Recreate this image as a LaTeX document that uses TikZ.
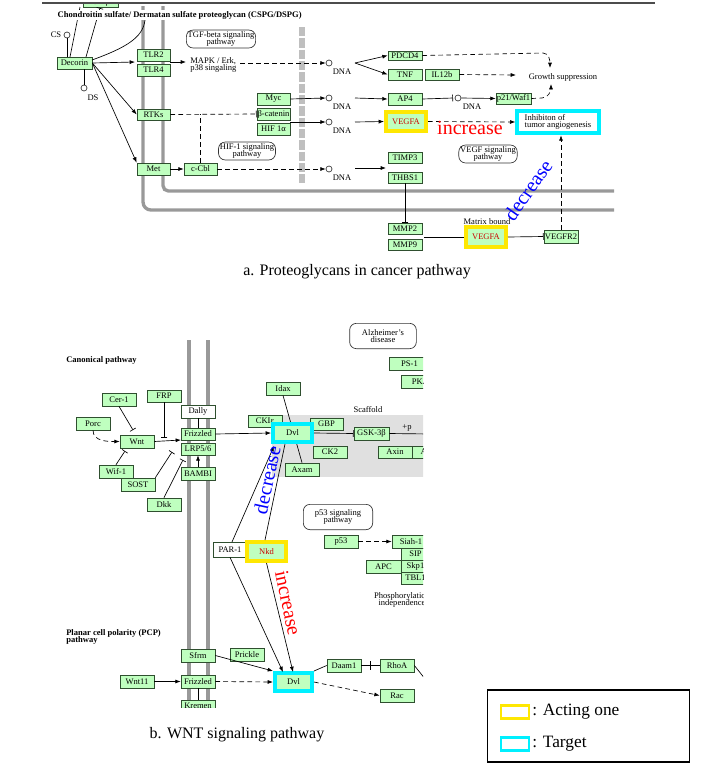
\documentclass[tikz,border=0pt]{standalone}
\usepackage{fontspec}
\setmainfont{Liberation Serif}
\usetikzlibrary{arrows.meta}
\definecolor{kg}{HTML}{BFFFBF}
\definecolor{kgd}{HTML}{2F4F2F}
\definecolor{memc}{HTML}{999999}
\definecolor{cy}{HTML}{00F0FF}
\newcommand\sm{\fontsize{6.4}{6.6}\selectfont}
\newcommand\bx[7][gbox]{%
  \pgfmathsetmacro\cxx{(#3+#5)/2}\pgfmathsetmacro\cyy{(#4+#6)/2}%
  \pgfmathsetmacro\ww{(#5-#3)*0.75}\pgfmathsetmacro\hh{(#6-#4)*0.75}%
  \node[#1,minimum width=\ww pt,minimum height=\hh pt] (#2) at (\cxx,\cyy) {#7};}
\begin{document}
\begin{tikzpicture}[x=0.75pt,y=-0.75pt,
  gbox/.style={draw=kgd,fill=kg,inner sep=0pt,font=\sm,line width=0.5pt},
  wbox/.style={gbox,fill=white},
  ybox/.style={gbox,draw=yellow!90!orange,line width=3pt,text=red!80!black},
  cbox/.style={gbox,draw=cy,line width=3pt},
  rbox/.style={draw=black!80,rounded corners=5pt,inner sep=1pt,font=\sm,align=center,line width=0.5pt},
  circ/.style={circle,draw=black!80,inner sep=0pt,minimum size=4.5pt,line width=0.5pt},
  lbl/.style={font=\sm,inner sep=0pt},
  ar/.style={-{Latex[length=4pt,width=3pt]},line width=0.5pt},
  ln/.style={line width=0.5pt},
  inh/.style={-{Bar[width=5pt]},line width=0.5pt},
  dsh/.style={dash pattern=on 3.5pt off 2.5pt},
  mem/.style={draw=memc,line width=2.5pt}]
\useasboundingbox (0,0) rectangle (713,765);
% ---------- part a ----------
\draw[line width=1pt,black!70] (42,3)--(655,3);
\draw[mem,rounded corners=6pt] (143,6)--(143,210)--(614,210);
\draw[mem,rounded corners=4pt] (163,6)--(163,191)--(614,191);
\draw[draw=black!25,line width=4pt,dash pattern=on 7pt off 1.5pt] (302,27)--(302,183);
\begin{scope}
\clip (42,4) rectangle (660,260);
\bx{tgfb}{83}{-2}{118}{7}{TGF-β1}
\end{scope}
\bx{dec}{57}{57}{92}{69}{Decorin}
\draw[ln] (70,57)--(80,7);
\draw[inh] (86,57)--(100,8);
\draw[ln] (92,60) .. controls (125,48) and (143,38) .. (145,20);
\node[lbl,anchor=west,font=\sm\bfseries,fill=white,inner sep=1pt] (hdr) at (56,15) {Chondroitin sulfate/ Dermatan sulfate proteoglycan (CSPG/DSPG)};
\node[circ] (cs) at (67,35) {};
\node[lbl] (csl) at (56,35) {CS};
\draw[ln] (67,57)--(cs);
\node[circ] (ds) at (84,88) {};
\node[lbl] (dsl) at (93,98) {DS};
\draw[ln] (84,69)--(ds);
\node[rbox] (tgfp) at (221,39) {TGF-beta signaling\\[-1pt]pathway};
\bx{tlr2}{137}{49}{170}{61}{TLR2}
\bx{tlr4}{137}{64}{170}{76}{TLR4}
\bx{rtks}{137}{109}{170}{120}{RTKs}
\bx{met}{137}{163}{170}{175}{Met}
\bx{ccbl}{184}{163}{217}{175}{c-Cbl}
\coordinate (tlrm) at (135,62);
\draw[ar] (dec.east)--(tlrm);
\draw[ar] (dec.east)--(rtks.west);
\draw[ar] (dec.east)--(met.north west);
\draw[ar] (met.east)--(ccbl.west);
\node[lbl,anchor=west,align=left] (mapk) at (190,65) {MAPK / Erk,\\[-1pt]p38 singaling};
\draw[ar] (170,62)--(186,62);
\bx{myc}{257}{93}{290}{105}{Myc}
\bx{bcat}{257}{108}{290}{120}{β-catenin}
\bx{hif}{257}{123}{290}{135}{HIF 1α}
\node[rbox] (hifp) at (247,151) {HIF-1 signaling\\[-1pt]pathway};
\draw[inh,dsh] (rtks.east)--(bcat.west);
\draw[ln,dsh,rounded corners=4pt] (ccbl.north -| 200,0)--(200,114);
\node[circ] (dna1) at (329,63) {};
\node[circ] (dna2) at (329,98) {};
\node[circ] (dna3) at (329,122) {};
\node[circ] (dna4) at (329,169) {};
\foreach \i/\y in {1/63,2/98,3/122,4/169}{\node[lbl] (dl\i) at (342,\y+9) {DNA};}
\draw[ar,dsh] (240,63)--(dna1.west);
\draw[ar] (myc.east)--(dna2.west);
\draw[ar] (290,122)--(dna3.west);
\draw[ar,dsh] (ccbl.east)--(dna4.west);
\bx{pdcd4}{388}{51}{422}{60}{PDCD4}
\bx{tnf}{388}{69}{422}{80}{TNF}
\bx{il12}{425}{69}{459}{80}{IL12b}
\bx{ap4}{388}{93}{422}{105}{AP4}
\bx{p21}{496}{93}{531}{104}{p21/Waf1}
\bx[ybox]{vegfa}{386}{112}{426}{131}{VEGFA}
\bx{timp}{388}{152}{422}{163}{TIMP3}
\bx{thbs}{388}{172}{422}{183}{THBS1}
\bx{mmp2}{388}{223}{422}{234}{MMP2}
\bx{mmp9}{388}{239}{422}{250}{MMP9}
\bx[ybox]{vegfa2}{466}{227}{506}{247}{VEGFA}
\bx{vegfr}{544}{230}{578}{243}{VEGFR2}
\node[cbox,minimum width=61pt,minimum height=17pt,align=left,fill=white] (ib) at (558,122) {Inhibiton of\\[-1pt]tumor angiogenesis};
\node[lbl] (gs) at (563,77) {Growth suppression};
\coordinate (d1o) at (355,63);
\draw[ar] (d1o)--(pdcd4.west);
\draw[ar] (d1o)--(tnf.west);
\draw[ar] (355,98)--(ap4.west);
\draw[ar] (355,122)--(vegfa.west);
\draw[ar] (355,168)--(386,168);
\draw[inh] (ap4.east)--(453,98);
\node[circ] (dna5) at (458,98) {};
\node[lbl] (dl5) at (472,107) {DNA};
\draw[ar] (dna5.east)--(p21.west);
\draw[ar,dsh] (pdcd4.east)--(543,53) to[out=0,in=90] (550,68);
\draw[ar,dsh] (il12.east)--(516,75);
\draw[ar,dsh] (p21.east)--(542,98) to[out=0,in=-90] (551,84);
\draw[ar,dsh] (vegfa.east)--(ib.west);
\node[text=red,font=\fontsize{15}{15}\selectfont,inner sep=0pt] (inc1) at (470,128) {increase};
\node[rbox] (vegfp) at (488,154) {VEGF signaling\\[-1pt]pathway};
\draw[inh] (thbs.south)--(mmp2.north);
\draw[ln] (424,237)--(vegfa2.west);
\draw[inh] (vegfa2.east)--(vegfr.west);
\draw[ar,dsh] (vegfr.north)--(vegfr.north |- ib.south);
\node[lbl] (mb) at (487,222) {Matrix bound};
\node[text=blue,font=\fontsize{15}{15}\selectfont,inner sep=0pt,rotate=55] (dec1) at (528,190) {decrease};
\node[font=\fontsize{12}{12}\selectfont] (capa) at (357,272) {a. Proteoglycans in cancer pathway};
% ---------- part b ----------
\begin{scope}
\clip (40,290) rectangle (423,707);
\fill[black!12] (272,415) rectangle (430,477);
\draw[mem] (189,340)--(189,712);
\draw[mem] (208,340)--(208,712);
\node[rbox,minimum width=50pt,minimum height=19pt] (alz) at (383,336) {Alzheimer's\\[-1pt]disease};
\bx{ps1}{389}{357}{430}{370}{PS-1}
\bx{pka}{401}{375}{440}{388}{PKA}
\bx{cer}{102}{393}{136}{406}{Cer-1}
\bx{frp}{147}{390}{181}{402}{FRP}
\bx{porc}{76}{417}{110}{430}{Porc}
\bx{wnt}{120}{435}{154}{448}{Wnt}
\bx{wif}{99}{465}{133}{478}{Wif-1}
\bx{sost}{121}{478}{155}{491}{SOST}
\bx{dkk}{147}{498}{181}{511}{Dkk}
\bx[wbox]{dally}{181}{405}{215}{418}{Dally}
\bx{fz}{181}{428}{215}{440}{Frizzled}
\bx{lrp}{181}{443}{215}{455}{LRP5/6}
\bx{bambi}{181}{467}{215}{480}{BAMBI}
\bx{idax}{266}{382}{300}{395}{Idax}
\bx{cki}{248}{415}{282}{427}{CKIε}
\bx{gbp}{310}{418}{343}{430}{GBP}
\bx{ck2}{313}{446}{347}{458}{CK2}
\bx{axam}{285}{463}{319}{476}{Axam}
\draw[ln] (idax.south)--(axam.north);
\bx[cbox]{dvl}{273}{424}{312}{442}{Dvl}
\node[lbl] (scf) at (368,410) {Scaffold};
\bx{gsk}{354}{427}{389}{440}{GSK-3β}
\bx{axin}{378}{446}{412}{458}{Axin}
\bx{axx}{412}{446}{446}{458}{APC}
\node[lbl] (pp) at (407,428) {+p};
\draw[ln] (gsk.east)--(430,434);
\draw[inh] (dvl.east)--(gsk.west);
\node[lbl,font=\sm\bfseries,anchor=west] (canl) at (66,360) {Canonical pathway};
\draw[ar,dsh] (porc.south) to[out=-90,in=180] (wnt.west);
\draw[inh] (cer.south)--(133,430);
\draw[inh] (wif.north)--(125,451);
\draw[ar] (wnt.east)--(181,440);
\draw[inh] (164,402)--(164,438);
\draw[inh] (sost.north east)--(172,452);
\draw[inh] (dkk.north)--(183,460);
\draw[ar] (bambi.north)--(lrp.south);
\draw[ln] (dally.south)--(fz.north);
\draw[ar] (fz.east)--(dvl.west);
\node[rbox,minimum width=52pt,minimum height=19pt] (p53p) at (338,517) {p53 signaling\\[-1pt]pathway};
\bx{p53}{324}{535}{358}{548}{p53}
\bx{siah}{392}{535}{430}{548}{Siah-1}
\bx{sip}{401}{548}{430}{560}{SIP}
\bx{skp}{401}{560}{430}{572}{Skp1}
\bx{tbl}{401}{572}{430}{584}{TBL1}
\bx{apc}{366}{560}{401}{573}{APC}
\draw[ar,dsh] (p53.east)--(siah.west);
\node[lbl,align=center] (phos) at (402,600) {Phosphorylation\\[-1pt]independence};
\bx[wbox]{par}{213}{542}{247}{557}{PAR-1}
\bx[ybox]{nkd}{247}{542}{286}{561}{Nkd}
\draw[ar] (232,542)--(274,446);
\draw[ln] (265,540)--(285,444);
\node[text=blue,font=\fontsize{15}{15}\selectfont,inner sep=0pt,rotate=78] (dec2) at (267,480) {decrease};
\node[lbl,font=\sm\bfseries,anchor=west,align=left] (pcpl) at (66,637) {Planar cell polarity (PCP)\\[-1pt]pathway};
\bx{sfrm}{181}{649}{215}{662}{Sfrm}
\bx{prk}{230}{648}{264}{661}{Prickle}
\bx{wnt11}{120}{675}{154}{688}{Wnt11}
\bx{fz2}{181}{675}{215}{688}{Frizzled}
\bx{krm}{181}{700}{215}{712}{Kremen}
\draw[ln] (198,688)--(198,700);
\bx[cbox]{dvl2}{275}{673}{312}{691}{Dvl}
\bx{daam}{327}{659}{361}{672}{Daam1}
\bx{rhoa}{380}{659}{414}{672}{RhoA}
\bx{rac}{380}{689}{414}{702}{Rac}
\draw[ar] (nkd.south)--(293,672);
\node[text=red,font=\fontsize{15}{15}\selectfont,inner sep=0pt,rotate=-78] (inc2) at (288,603) {increase};
\draw[ar] (par.south)--(283,672);
\draw[ar] (sfrm.east)--(dvl2.north west);
\draw[ar] (wnt11.east)--(fz2.west);
\draw[ar,dsh] (fz2.east)--(dvl2.west);
\draw[ln] (dvl2.north east)--(daam.west);
\draw[ln] (daam.east)--(rhoa.west);
\draw[ln] (370,661)--(370,670);
\draw[ln] (rhoa.east)--(430,685);
\draw[ar,dsh] (dvl2.east)--(rac.west);
\end{scope}
\node[font=\fontsize{12}{12}\selectfont] (capb) at (237,735) {b. WNT signaling pathway};
% legend
\node[draw=black,line width=0.8pt,minimum width=152pt,minimum height=54pt,inner sep=0] (leg) at (588.5,726) {};
\node[draw=yellow!90!orange,line width=2.2pt,minimum width=21pt,minimum height=10pt,inner sep=0] (ly) at (515,712) {};
\node[draw=cy,line width=2.2pt,minimum width=21pt,minimum height=10pt,inner sep=0] (lc) at (515,744) {};
\node[anchor=west,font=\fontsize{13}{13}\selectfont,inner sep=0] (lyt) at (532,712) {: Acting one};
\node[anchor=west,font=\fontsize{13}{13}\selectfont,inner sep=0] (lct) at (532,744) {: Target};
\end{tikzpicture}
\end{document}
